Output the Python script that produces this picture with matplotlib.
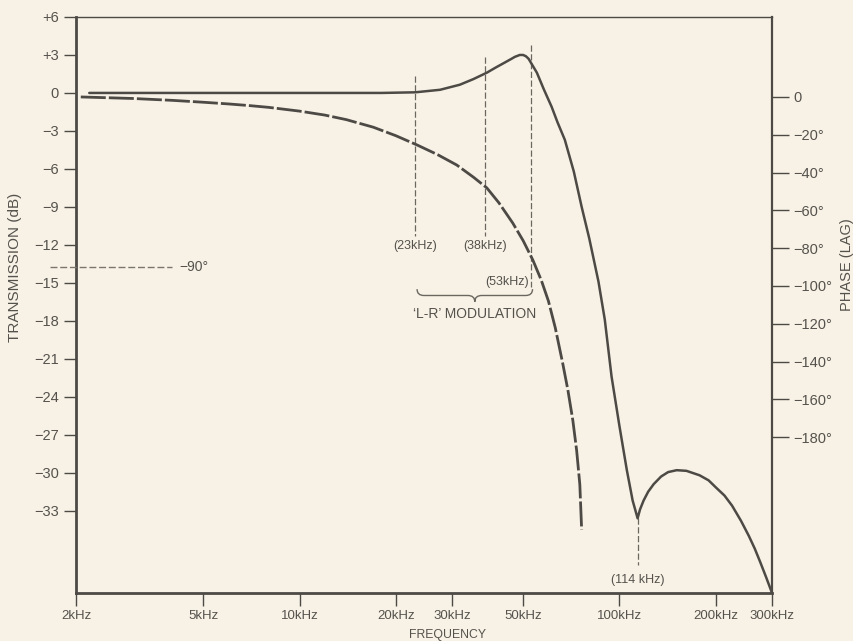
import matplotlib
matplotlib.use("Agg")
import matplotlib.pyplot as plt
from matplotlib import transforms
from matplotlib.path import Path
from matplotlib.patches import PathPatch

# amplitude response (dB) against frequency (kHz)
amp_khz = [2.2, 5.0, 10, 18, 23, 27.5, 31.7, 35, 38.5, 41, 43.8, 46, 47.1, 48.8,
           50.0, 51.0, 52.0, 53.0, 55.2, 58, 61.4, 64, 67.5, 72, 76.2, 80.5, 86,
           90, 94.5, 100, 105.5, 110, 114, 116, 119, 123, 128, 135, 142, 151, 162,
           178, 190, 201, 213, 225, 240, 254, 265, 276, 288, 300]
amp_db = [0.0, 0.0, 0.0, 0.0, 0.05, 0.25, 0.65, 1.1, 1.6, 2.0, 2.4, 2.7, 2.85, 3.0,
          3.0, 2.9, 2.7, 2.35, 1.6, 0.3, -1.1, -2.3, -3.7, -6.2, -9.0, -11.5, -14.9,
          -17.9, -22.4, -26.3, -29.8, -32.2, -33.6, -32.9, -32.2, -31.5, -30.9, -30.3,
          -29.95, -29.8, -29.85, -30.2, -30.6, -31.2, -31.8, -32.6, -33.8, -35.0,
          -36.0, -37.1, -38.3, -39.5]

# phase lag (degrees) against frequency (kHz)
phase_khz = [2.07, 3.0, 4.0, 5.0, 6.0, 7.0, 8.0, 10.0, 12.0, 14.0, 17.0, 20.0,
             23.3, 27.0, 31.0, 35.0, 38.5, 42.0, 46.4, 50.0, 53.6, 57.0, 60.0,
             63.0, 66.5, 69.0, 71.5, 73.5, 75.2, 76.2]
phase_deg = [0, -0.8, -1.8, -2.8, -3.7, -4.6, -5.5, -7.5, -9.6, -12.0, -16.0, -20.5,
             -25.4, -30.5, -36.0, -42.5, -48.1, -56.0, -66.7, -76.0, -86.2, -97.0,
             -108.0, -122.0, -141.0, -155.0, -171.0, -187.0, -205.0, -229.0]

x_ticks = [2, 5, 10, 20, 30, 50, 100, 200, 300]
x_labels = ["2kHz", "5kHz", "10kHz", "20kHz", "30kHz", "50kHz", "100kHz", "200kHz", "300kHz"]
db_ticks = [6, 3, 0, -3, -6, -9, -12, -15, -18, -21, -24, -27, -30, -33]
deg_ticks = [0, -20, -40, -60, -80, -100, -120, -140, -160, -180]

# marker lines: frequency, top dB, bottom dB
markers = [(23, 1.3, -11.3), (38, 2.85, -11.3), (53, 3.8, -15.3), (114, -33.6, -37.3)]

BG = "#f8f2e6"
INK = "#4d4a46"
TXT = "#55524d"

plt.rcParams["font.family"] = ["Liberation Sans", "DejaVu Sans"]

fig = plt.figure(figsize=(8.54, 6.41), dpi=100, facecolor=BG)
ax = fig.add_axes([0.089, 0.0749, 0.815, 0.8986], facecolor=BG)
ax.set_xscale("log")
ax.set_xlim(2, 300)
ax.set_ylim(-39.5, 6)

ax2 = ax.twinx()
ax2.set_ylim(-262.4, 42.3)

ax.plot(amp_khz, amp_db, color=INK, lw=1.8, solid_capstyle="round",
        solid_joinstyle="round", zorder=3)
ax2.plot(phase_khz, phase_deg, color=INK, lw=2.0, linestyle=(0, (9, 1.1)), zorder=3)

for f, top, bot in markers:
    ax.plot([f, f], [top, bot], color="#6a6660", lw=0.9, linestyle=(0, (5, 2)), zorder=2)

# axes styling
for side, lw in [("left", 2.0), ("bottom", 2.0), ("right", 1.6), ("top", 1.0)]:
    ax.spines[side].set_linewidth(lw)
    ax.spines[side].set_color(INK)
for sp in ax2.spines.values():
    sp.set_visible(False)

ax.set_xticks(x_ticks)
ax.set_xticklabels(x_labels)
ax.xaxis.set_minor_locator(matplotlib.ticker.NullLocator())
ax.tick_params(axis="x", direction="out", length=9, width=1.0, color=INK,
               labelsize=9.5, labelcolor=TXT, pad=3)

ax.set_yticks(db_ticks)
ax.set_yticklabels([("+%d" % v if v > 0 else ("0" if v == 0 else "\u2212%d" % -v)) for v in db_ticks])
ax.tick_params(axis="y", direction="out", length=9, width=1.0, color=INK,
               labelsize=10.5, labelcolor=TXT, pad=3.5)

ax2.set_yticks(deg_ticks)
ax2.set_yticklabels(["0"] + ["\u2212%d\u00b0" % -v for v in deg_ticks[1:]])
ax2.tick_params(axis="y", direction="out", length=12, width=1.0, color=INK,
                labelsize=10.5, labelcolor=TXT, pad=3.6)

ax.set_ylabel("TRANSMISSION (dB)", fontsize=11, color=TXT)
ax.yaxis.set_label_coords(-0.077, 0.566)
ax2.set_ylabel("PHASE (LAG)", fontsize=10.5, color=TXT)
ax2.yaxis.set_label_coords(1.097, 0.57)
ax.set_xlabel("FREQUENCY", fontsize=8.8, color=TXT)
ax.xaxis.set_label_coords(0.534, -0.062)

# -90 degree reference on the left
blend = transforms.blended_transform_factory(ax2.transAxes, ax2.transData)
ax2.plot([-0.037, 0.138], [-90, -90], transform=blend, color="#7a766f", lw=1.0,
         linestyle=(0, (5, 2)), clip_on=False)
ax2.text(0.148, -90, "\u221290\u00b0", transform=blend, fontsize=10, color=TXT,
         va="center", ha="left")

# frequency labels
ax.text(23, -12.1, "(23kHz)", fontsize=9, color=TXT, ha="center", va="center")
ax.text(38, -12.1, "(38kHz)", fontsize=9, color=TXT, ha="center", va="center")
ax.text(52, -14.9, "(53kHz)", fontsize=9, color=TXT, ha="right", va="center")
ax.text(114, -38.5, "(114 kHz)", fontsize=9, color=TXT, ha="center", va="center")


def brace(axis, f0, f1, db_top, depth):
    # horizontal curly brace between two frequencies, opening upward
    to_ax = axis.transData + axis.transAxes.inverted()
    x0, y0 = to_ax.transform((f0, db_top))
    x1, _ = to_ax.transform((f1, db_top))
    _, yb = to_ax.transform((f0, db_top - depth))
    ym = (y0 + yb) / 2
    xc = (x0 + x1) / 2
    r = (x1 - x0) * 0.06
    verts = [(x0, y0), (x0, ym), (x0 + r, ym),
             (xc - r, ym), (xc, ym), (xc, yb),
             (xc, ym), (xc + r, ym),
             (x1 - r, ym), (x1, ym), (x1, y0)]
    codes = [Path.MOVETO, Path.CURVE3, Path.CURVE3,
             Path.LINETO, Path.CURVE3, Path.CURVE3,
             Path.CURVE3, Path.CURVE3,
             Path.LINETO, Path.CURVE3, Path.CURVE3]
    axis.add_patch(PathPatch(Path(verts, codes), transform=axis.transAxes,
                             fill=False, edgecolor="#6a6660", lw=1.0))
    return xc, yb


xc, yb = brace(ax, 23.3, 53.5, -15.5, 1.0)
ax.text(xc, yb - 0.022, "\u2018L-R\u2019 MODULATION", transform=ax.transAxes,
        fontsize=10, color=TXT, ha="center", va="center")

fig.savefig("out.png", dpi=100, facecolor=BG)
